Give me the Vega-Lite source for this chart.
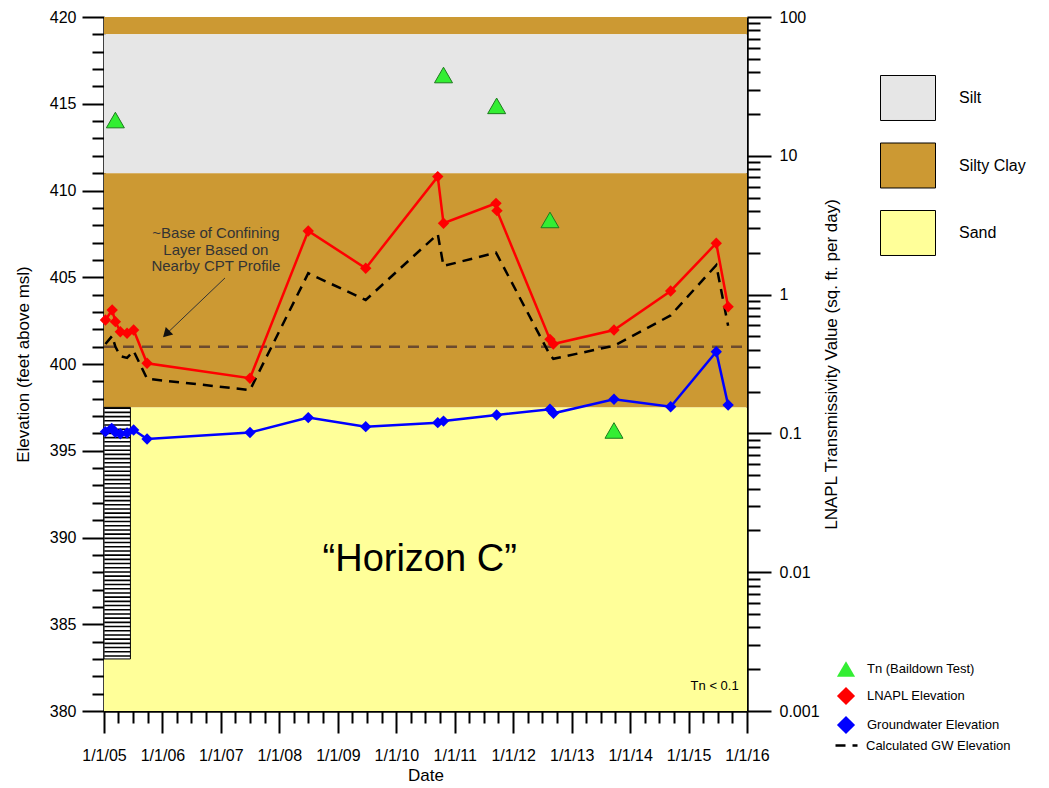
{
  "$schema": "https://vega.github.io/schema/vega-lite/v6.json",
  "width": 643,
  "height": 694,
  "autosize": {"type": "none"},
  "padding": {"left": 104, "top": 17, "right": 302, "bottom": 77},
  "background": "white",
  "config": {
    "view": {"stroke": null},
    "font": "Liberation Sans",
    "axis": {
      "domainColor": "black", "domainWidth": 2.5, "tickColor": "black", "tickWidth": 2,
      "labelColor": "black", "labelFontSize": 16, "labelFont": "Liberation Sans",
      "titleFont": "Liberation Sans", "titleFontSize": 17, "titleFontWeight": "normal", "titleColor": "black",
      "grid": false, "zindex": 1, "labelOverlap": false, "labelBound": false
    },
    "legend": {"labelFont": "Liberation Sans", "labelColor": "black"}
  },
  "datasets": {
    "bands": [
      {"layer": "Silty Clay", "date": "2005/01/01", "date2": "2016/01/01", "elev": 420, "elev2": 419},
      {"layer": "Silt", "date": "2005/01/01", "date2": "2016/01/01", "elev": 419, "elev2": 411},
      {"layer": "Silty Clay", "date": "2005/01/01", "date2": "2016/01/01", "elev": 411, "elev2": 397.5},
      {"layer": "Sand", "date": "2005/01/01", "date2": "2016/01/01", "elev": 397.5, "elev2": 380}
    ],
    "lnapl": [
      {"date": "2005/01/10", "elev": 402.54, "series": "LNAPL Elevation"},
      {"date": "2005/02/21", "elev": 403.11, "series": "LNAPL Elevation"},
      {"date": "2005/03/13", "elev": 402.44, "series": "LNAPL Elevation"},
      {"date": "2005/04/13", "elev": 401.86, "series": "LNAPL Elevation"},
      {"date": "2005/05/25", "elev": 401.77, "series": "LNAPL Elevation"},
      {"date": "2005/07/05", "elev": 401.96, "series": "LNAPL Elevation"},
      {"date": "2005/09/27", "elev": 400.04, "series": "LNAPL Elevation"},
      {"date": "2007/07/02", "elev": 399.18, "series": "LNAPL Elevation"},
      {"date": "2008/06/30", "elev": 407.67, "series": "LNAPL Elevation"},
      {"date": "2009/06/24", "elev": 405.52, "series": "LNAPL Elevation"},
      {"date": "2010/09/17", "elev": 410.80, "series": "LNAPL Elevation"},
      {"date": "2010/10/23", "elev": 408.11, "series": "LNAPL Elevation"},
      {"date": "2011/09/16", "elev": 409.26, "series": "LNAPL Elevation"},
      {"date": "2011/09/22", "elev": 408.84, "series": "LNAPL Elevation"},
      {"date": "2012/08/18", "elev": 401.42, "series": "LNAPL Elevation"},
      {"date": "2012/09/08", "elev": 401.15, "series": "LNAPL Elevation"},
      {"date": "2013/09/22", "elev": 401.96, "series": "LNAPL Elevation"},
      {"date": "2014/09/11", "elev": 404.21, "series": "LNAPL Elevation"},
      {"date": "2015/06/23", "elev": 406.96, "series": "LNAPL Elevation"},
      {"date": "2015/09/05", "elev": 403.30, "series": "LNAPL Elevation"}
    ],
    "gw": [
      {"date": "2005/01/10", "elev": 396.10, "series": "Groundwater Elevation"},
      {"date": "2005/02/18", "elev": 396.29, "series": "Groundwater Elevation"},
      {"date": "2005/03/13", "elev": 396.06, "series": "Groundwater Elevation"},
      {"date": "2005/04/13", "elev": 395.98, "series": "Groundwater Elevation"},
      {"date": "2005/05/25", "elev": 396.02, "series": "Groundwater Elevation"},
      {"date": "2005/07/05", "elev": 396.20, "series": "Groundwater Elevation"},
      {"date": "2005/09/27", "elev": 395.68, "series": "Groundwater Elevation"},
      {"date": "2007/07/02", "elev": 396.05, "series": "Groundwater Elevation"},
      {"date": "2008/06/30", "elev": 396.91, "series": "Groundwater Elevation"},
      {"date": "2009/06/24", "elev": 396.39, "series": "Groundwater Elevation"},
      {"date": "2010/09/17", "elev": 396.62, "series": "Groundwater Elevation"},
      {"date": "2010/10/23", "elev": 396.71, "series": "Groundwater Elevation"},
      {"date": "2011/09/20", "elev": 397.06, "series": "Groundwater Elevation"},
      {"date": "2012/08/18", "elev": 397.39, "series": "Groundwater Elevation"},
      {"date": "2012/09/09", "elev": 397.16, "series": "Groundwater Elevation"},
      {"date": "2013/09/22", "elev": 397.97, "series": "Groundwater Elevation"},
      {"date": "2014/09/11", "elev": 397.54, "series": "Groundwater Elevation"},
      {"date": "2015/06/23", "elev": 400.71, "series": "Groundwater Elevation"},
      {"date": "2015/09/05", "elev": 397.64, "series": "Groundwater Elevation"}
    ],
    "calc": [
      {"date": "2005/01/10", "elev": 401.15, "series": "Calculated GW Elevation"},
      {"date": "2005/02/21", "elev": 401.62, "series": "Calculated GW Elevation"},
      {"date": "2005/03/13", "elev": 401.00, "series": "Calculated GW Elevation"},
      {"date": "2005/04/13", "elev": 400.45, "series": "Calculated GW Elevation"},
      {"date": "2005/05/25", "elev": 400.35, "series": "Calculated GW Elevation"},
      {"date": "2005/07/05", "elev": 400.75, "series": "Calculated GW Elevation"},
      {"date": "2005/09/27", "elev": 399.15, "series": "Calculated GW Elevation"},
      {"date": "2007/07/02", "elev": 398.50, "series": "Calculated GW Elevation"},
      {"date": "2008/06/30", "elev": 405.23, "series": "Calculated GW Elevation"},
      {"date": "2009/06/24", "elev": 403.69, "series": "Calculated GW Elevation"},
      {"date": "2010/09/17", "elev": 407.49, "series": "Calculated GW Elevation"},
      {"date": "2010/10/23", "elev": 405.65, "series": "Calculated GW Elevation"},
      {"date": "2011/09/16", "elev": 406.42, "series": "Calculated GW Elevation"},
      {"date": "2012/08/18", "elev": 400.52, "series": "Calculated GW Elevation"},
      {"date": "2012/09/08", "elev": 400.30, "series": "Calculated GW Elevation"},
      {"date": "2013/09/22", "elev": 401.05, "series": "Calculated GW Elevation"},
      {"date": "2014/09/11", "elev": 402.80, "series": "Calculated GW Elevation"},
      {"date": "2015/06/23", "elev": 405.70, "series": "Calculated GW Elevation"},
      {"date": "2015/09/05", "elev": 402.20, "series": "Calculated GW Elevation"}
    ],
    "tn": [
      {"date": "2005/03/13", "tn": 18.1, "series": "Tn (Baildown Test)"},
      {"date": "2010/10/23", "tn": 38.2, "series": "Tn (Baildown Test)"},
      {"date": "2011/09/20", "tn": 22.9, "series": "Tn (Baildown Test)"},
      {"date": "2012/08/18", "tn": 3.45, "series": "Tn (Baildown Test)"},
      {"date": "2013/09/22", "tn": 0.105, "series": "Tn (Baildown Test)"}
    ]
  },
  "encoding": {
    "x": {
      "field": "date", "type": "temporal", "title": "Date",
      "scale": {"domain": [{"year": 2005, "month": 1, "date": 1}, {"year": 2016, "month": 1, "date": 1}]},
      "axis": {
        "values": [
          {"year": 2005, "month": 1, "date": 1}, {"year": 2005, "month": 4, "date": 1}, {"year": 2005, "month": 7, "date": 1}, {"year": 2005, "month": 10, "date": 1},
          {"year": 2006, "month": 1, "date": 1}, {"year": 2006, "month": 4, "date": 1}, {"year": 2006, "month": 7, "date": 1}, {"year": 2006, "month": 10, "date": 1},
          {"year": 2007, "month": 1, "date": 1}, {"year": 2007, "month": 4, "date": 1}, {"year": 2007, "month": 7, "date": 1}, {"year": 2007, "month": 10, "date": 1},
          {"year": 2008, "month": 1, "date": 1}, {"year": 2008, "month": 4, "date": 1}, {"year": 2008, "month": 7, "date": 1}, {"year": 2008, "month": 10, "date": 1},
          {"year": 2009, "month": 1, "date": 1}, {"year": 2009, "month": 4, "date": 1}, {"year": 2009, "month": 7, "date": 1}, {"year": 2009, "month": 10, "date": 1},
          {"year": 2010, "month": 1, "date": 1}, {"year": 2010, "month": 4, "date": 1}, {"year": 2010, "month": 7, "date": 1}, {"year": 2010, "month": 10, "date": 1},
          {"year": 2011, "month": 1, "date": 1}, {"year": 2011, "month": 4, "date": 1}, {"year": 2011, "month": 7, "date": 1}, {"year": 2011, "month": 10, "date": 1},
          {"year": 2012, "month": 1, "date": 1}, {"year": 2012, "month": 4, "date": 1}, {"year": 2012, "month": 7, "date": 1}, {"year": 2012, "month": 10, "date": 1},
          {"year": 2013, "month": 1, "date": 1}, {"year": 2013, "month": 4, "date": 1}, {"year": 2013, "month": 7, "date": 1}, {"year": 2013, "month": 10, "date": 1},
          {"year": 2014, "month": 1, "date": 1}, {"year": 2014, "month": 4, "date": 1}, {"year": 2014, "month": 7, "date": 1}, {"year": 2014, "month": 10, "date": 1},
          {"year": 2015, "month": 1, "date": 1}, {"year": 2015, "month": 4, "date": 1}, {"year": 2015, "month": 7, "date": 1}, {"year": 2015, "month": 10, "date": 1},
          {"year": 2016, "month": 1, "date": 1}
        ],
        "labelExpr": "month(datum.value) === 0 ? timeFormat(datum.value, '%-m/%-d/%y') : ''",
        "tickSize": {"condition": {"test": "month(datum.value) === 0", "value": 22}, "value": 12},
        "labelPadding": 14,
        "labelFlush": false,
        "titlePadding": 4
      }
    }
  },
  "layer": [
    {
      "encoding": {
        "y": {
          "field": "elev", "type": "quantitative", "title": "Elevation (feet above msl)",
          "scale": {"domain": [380, 420], "nice": false, "zero": false},
          "axis": {
            "orient": "left",
            "values": [380,381,382,383,384,385,386,387,388,389,390,391,392,393,394,395,396,397,398,399,400,401,402,403,404,405,406,407,408,409,410,411,412,413,414,415,416,417,418,419,420],
            "labelExpr": "datum.value % 5 === 0 ? format(datum.value, 'd') : ''",
            "tickSize": {"condition": {"test": "datum.value % 5 === 0", "value": 22}, "value": 12},
            "labelPadding": 6,
            "titlePadding": 17
          }
        }
      },
      "layer": [
        {
          "data": {"name": "bands"},
          "mark": {"type": "rect"},
          "encoding": {
            "x2": {"field": "date2"},
            "y2": {"field": "elev2"},
            "fill": {
              "field": "layer", "type": "nominal",
              "scale": {"domain": ["Silt", "Silty Clay", "Sand"], "range": ["#E6E6E6", "#CC9933", "#FFFF99"]},
              "legend": {
                "title": null, "orient": "none", "legendX": 776, "legendY": 53,
                "symbolType": "M-1,-0.818L1,-0.818L1,0.818L-1,0.818Z", "symbolSize": 3025,
                "symbolStrokeColor": "black", "symbolStrokeWidth": 1,
                "labelFontSize": 16, "labelOffset": 23, "rowPadding": 14.5
              }
            }
          }
        },
        {
          "data": {"values": [{"date": "2005/01/01", "date2": "2005/06/15", "elev": 397.5, "elev2": 383}]},
          "mark": {"type": "rect", "fill": "white", "stroke": "black", "strokeWidth": 1},
          "encoding": {
            "x2": {"field": "date2"},
            "y2": {"field": "elev2"}
          }
        },
        {
          "data": {"values": [{"date": "2005/03/25", "elev": 397.5, "elev2": 383}]},
          "mark": {"type": "rule", "color": "black", "strokeWidth": 26, "strokeDash": [1.6, 2.6], "strokeCap": "butt"},
          "encoding": {
            "y2": {"field": "elev2"}
          }
        },
        {
          "data": {"values": [{"date": "2005/01/01", "date2": "2016/01/01", "elev": 401}]},
          "mark": {"type": "rule", "color": "#6B4A2E", "strokeWidth": 2.5, "strokeDash": [11, 8]},
          "encoding": {
            "x2": {"field": "date2"}
          }
        },
        {
          "data": {"name": "calc"},
          "mark": {"type": "line", "color": "black", "strokeWidth": 2.5},
          "encoding": {
            "strokeDash": {
              "field": "series", "type": "nominal",
              "scale": {"domain": ["Calculated GW Elevation"], "range": [[10, 7]]},
              "legend": {
                "title": null, "orient": "none", "legendX": 730, "legendY": 716,
                "symbolType": "stroke", "symbolSize": 484, "symbolStrokeWidth": 2.5, "symbolStrokeColor": "black",
                "labelFontSize": 13, "labelOffset": 7
              }
            }
          }
        },
        {
          "data": {"name": "lnapl"},
          "mark": {"type": "line", "color": "#FF0000", "strokeWidth": 2.5}
        },
        {
          "data": {"name": "gw"},
          "mark": {"type": "line", "color": "#0000FF", "strokeWidth": 2.5}
        },
        {
          "data": {"name": "lnapl"},
          "mark": {"type": "point", "filled": true, "size": 130, "opacity": 1},
          "encoding": {
            "color": {
              "field": "series", "type": "nominal",
              "scale": {"domain": ["Tn (Baildown Test)", "LNAPL Elevation", "Groundwater Elevation"], "range": ["#33EE33", "#FF0000", "#0000FF"]},
              "legend": {"title": null, "orient": "none", "legendX": 732, "legendY": 642, "symbolSize": 330, "labelFontSize": 13, "labelOffset": 11, "rowPadding": 9}
            },
            "shape": {
              "field": "series", "type": "nominal",
              "scale": {"domain": ["Tn (Baildown Test)", "LNAPL Elevation", "Groundwater Elevation"], "range": ["triangle-up", "diamond", "diamond"]},
              "legend": {"title": null, "orient": "none", "legendX": 732, "legendY": 642, "symbolSize": 330, "labelFontSize": 13, "labelOffset": 11, "rowPadding": 9}
            }
          }
        },
        {
          "data": {"name": "gw"},
          "mark": {"type": "point", "filled": true, "size": 130, "opacity": 1},
          "encoding": {
            "color": {"field": "series", "type": "nominal"},
            "shape": {"field": "series", "type": "nominal"}
          }
        },
        {
          "data": {"values": [{"date": "2006/12/01", "elev": 407.55, "note": "~Base of Confining\nLayer Based on\nNearby CPT Profile"}]},
          "mark": {"type": "text", "fontSize": 15, "lineHeight": 16.5, "lineBreak": "\n", "align": "center", "baseline": "middle", "color": "#333333"},
          "encoding": {
            "text": {"field": "note"}
          }
        },
        {
          "data": {"values": [{"date": "2007/01/27", "elev": 404.96, "date2": "2006/01/25", "elev2": 401.73}]},
          "mark": {"type": "rule", "color": "#333333", "strokeWidth": 1},
          "encoding": {
            "x2": {"field": "date2"},
            "y2": {"field": "elev2"}
          }
        },
        {
          "data": {"values": [{"date": "2006/01/25", "elev": 401.73}]},
          "mark": {"type": "point", "shape": "triangle-up", "filled": true, "color": "#111111", "size": 110, "angle": 225, "opacity": 1}
        },
        {
          "data": {"values": [{"date": "2010/05/27", "elev": 388.7, "note": "“Horizon C”"}]},
          "mark": {"type": "text", "fontSize": 38, "align": "center", "baseline": "middle", "color": "black"},
          "encoding": {
            "text": {"field": "note"}
          }
        },
        {
          "data": {"values": [{"date": "2015/11/10", "elev": 381.2, "note": "Tn < 0.1"}]},
          "mark": {"type": "text", "fontSize": 13, "align": "right", "baseline": "alphabetic", "color": "black"},
          "encoding": {
            "text": {"field": "note"}
          }
        }
      ]
    },
    {
      "data": {"name": "tn"},
      "mark": {"type": "point", "filled": true, "size": 324, "opacity": 1, "stroke": "#1E7A1E", "strokeWidth": 1},
      "encoding": {
        "y": {
          "field": "tn", "type": "quantitative", "title": "LNAPL Transmissivity Value (sq. ft. per day)",
          "scale": {"type": "log", "domain": [0.001, 100], "nice": false},
          "axis": {
            "orient": "right",
            "values": [0.001,0.002,0.003,0.004,0.005,0.006,0.007,0.008,0.009,0.01,0.02,0.03,0.04,0.05,0.06,0.07,0.08,0.09,0.1,0.2,0.3,0.4,0.5,0.6,0.7,0.8,0.9,1,2,3,4,5,6,7,8,9,10,20,30,40,50,60,70,80,90,100],
            "labelExpr": "indexof([0.001,0.01,0.1,1,10,100], datum.value) >= 0 ? format(datum.value, '~g') : ''",
            "tickSize": {"condition": {"test": "indexof([0.001,0.01,0.1,1,10,100], datum.value) >= 0", "value": 24}, "value": 13},
            "labelPadding": 8,
            "titlePadding": 21,
            "titleAngle": -90
          }
        },
        "color": {"field": "series", "type": "nominal"},
        "shape": {"field": "series", "type": "nominal"}
      }
    }
  ],
  "resolve": {"scale": {"y": "independent"}}
}
